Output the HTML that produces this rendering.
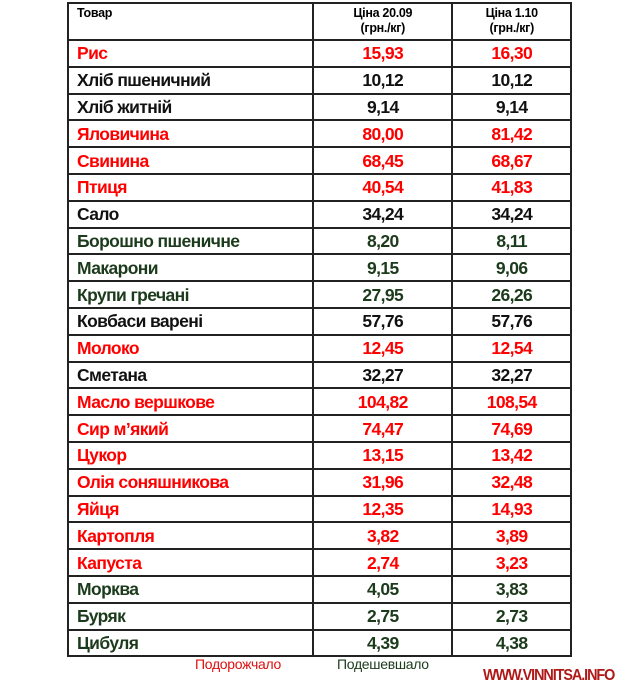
<!DOCTYPE html><html><head><meta charset="utf-8"><style>
body{margin:0;width:640px;height:691px;background:#fff;position:relative;font-family:"Liberation Sans",sans-serif;overflow:hidden}
table{position:absolute;left:67px;top:2px;border-collapse:collapse;width:505px}
td{border:2px solid #222;padding:0;height:24.8px;font-weight:bold;font-size:17.5px;letter-spacing:-0.6px;line-height:20px}
td.n{text-align:left;padding-left:8px}
td.v{text-align:center}
tr.h td{height:33px;font-size:12.5px;letter-spacing:-0.3px;line-height:15px;vertical-align:top}
.r td{color:#f00}.g td{color:#1c3a1c}.k td{color:#111}
</style></head><body>
<table>
<colgroup><col style="width:246px"><col style="width:140px"><col style="width:119px"></colgroup>
<tr class="h"><td class="n" style="padding-top:2px">Товар</td><td class="v" style="padding-top:2px">Ціна 20.09<br>(грн./кг)</td><td class="v" style="padding-top:2px">Ціна 1.10<br>(грн./кг)</td></tr>
<tr class="r"><td class="n">Рис</td><td class="v">15,93</td><td class="v">16,30</td></tr>
<tr class="k"><td class="n">Хліб пшеничний</td><td class="v">10,12</td><td class="v">10,12</td></tr>
<tr class="k"><td class="n">Хліб житній</td><td class="v">9,14</td><td class="v">9,14</td></tr>
<tr class="r"><td class="n">Яловичина</td><td class="v">80,00</td><td class="v">81,42</td></tr>
<tr class="r"><td class="n">Свинина</td><td class="v">68,45</td><td class="v">68,67</td></tr>
<tr class="r"><td class="n">Птиця</td><td class="v">40,54</td><td class="v">41,83</td></tr>
<tr class="k"><td class="n">Сало</td><td class="v">34,24</td><td class="v">34,24</td></tr>
<tr class="g"><td class="n">Борошно пшеничне</td><td class="v">8,20</td><td class="v">8,11</td></tr>
<tr class="g"><td class="n">Макарони</td><td class="v">9,15</td><td class="v">9,06</td></tr>
<tr class="g"><td class="n">Крупи гречані</td><td class="v">27,95</td><td class="v">26,26</td></tr>
<tr class="k"><td class="n">Ковбаси варені</td><td class="v">57,76</td><td class="v">57,76</td></tr>
<tr class="r"><td class="n">Молоко</td><td class="v">12,45</td><td class="v">12,54</td></tr>
<tr class="k"><td class="n">Сметана</td><td class="v">32,27</td><td class="v">32,27</td></tr>
<tr class="r"><td class="n">Масло вершкове</td><td class="v">104,82</td><td class="v">108,54</td></tr>
<tr class="r"><td class="n">Сир м’який</td><td class="v">74,47</td><td class="v">74,69</td></tr>
<tr class="r"><td class="n">Цукор</td><td class="v">13,15</td><td class="v">13,42</td></tr>
<tr class="r"><td class="n">Олія соняшникова</td><td class="v">31,96</td><td class="v">32,48</td></tr>
<tr class="r"><td class="n">Яйця</td><td class="v">12,35</td><td class="v">14,93</td></tr>
<tr class="r"><td class="n">Картопля</td><td class="v">3,82</td><td class="v">3,89</td></tr>
<tr class="r"><td class="n">Капуста</td><td class="v">2,74</td><td class="v">3,23</td></tr>
<tr class="g"><td class="n">Морква</td><td class="v">4,05</td><td class="v">3,83</td></tr>
<tr class="g"><td class="n">Буряк</td><td class="v">2,75</td><td class="v">2,73</td></tr>
<tr class="g"><td class="n">Цибуля</td><td class="v">4,39</td><td class="v">4,38</td></tr>
</table>
<div style="position:absolute;left:195px;top:656px;font-size:14px;color:#e01010;letter-spacing:-0.3px">Подорожчало</div>
<div style="position:absolute;left:337px;top:656px;font-size:14px;color:#1c3a1c;letter-spacing:-0.3px">Подешевшало</div>
<div style="position:absolute;left:483px;top:667px;font-size:16px;font-weight:bold;color:#b01818;letter-spacing:-1.2px;transform:scaleX(0.9);transform-origin:left">WWW.VINNITSA.INFO</div>
</body></html>
